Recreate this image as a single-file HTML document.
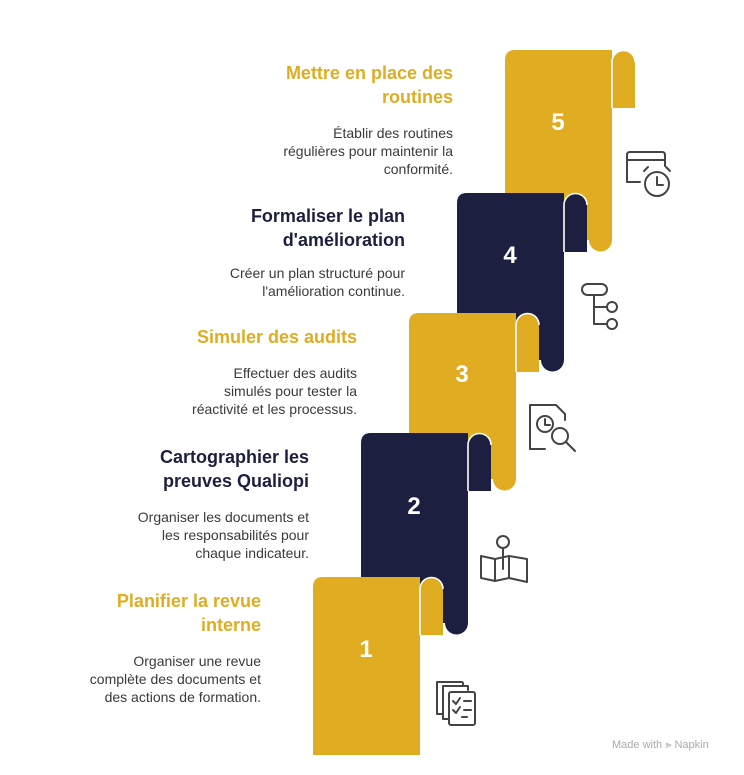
<!DOCTYPE html>
<html><head><meta charset="utf-8"><style>
body{margin:0;width:744px;height:775px;background:#fff;position:relative;overflow:hidden;font-family:"Liberation Sans",sans-serif}
.t{position:absolute;text-align:right;font-weight:bold;font-size:18px;line-height:24px}
.d{position:absolute;text-align:right;font-size:14px;line-height:18px;color:#3a3a3a}
.y{color:#E0AC21}.n{color:#1C1F3F}
</style></head><body>
<svg width="744" height="775" style="position:absolute;left:0;top:0">
<!-- step 5 -->
<g>
<path d="M505,60 Q505,50 515,50 L612,50 L612,240 A11.5,11.5 0 0 1 589,240 L505,240 Z" fill="#E0AC21"/>
<path d="M612,108 L612,62 A11.5,11.5 0 0 1 635,62 L635,108 Z" fill="#E0AC21"/>
<path d="M612,108 L612,62 A11.5,11.5 0 0 1 635,62" fill="none" stroke="#fff" stroke-width="1.6"/>
</g>
<!-- step 4 -->
<g>
<path d="M457,203 Q457,193 467,193 L564,193 L564,360 A11.5,11.5 0 0 1 541,360 L457,360 Z" fill="#1C1F3F"/>
<path d="M564,252 L564,205 A11.5,11.5 0 0 1 587,205 L587,252 Z" fill="#1C1F3F"/>
<path d="M564,252 L564,205 A11.5,11.5 0 0 1 587,205" fill="none" stroke="#fff" stroke-width="1.6"/>
</g>
<!-- step 3 -->
<g>
<path d="M409,323 Q409,313 419,313 L516,313 L516,479 A11.5,11.5 0 0 1 493,479 L409,479 Z" fill="#E0AC21"/>
<path d="M516,372 L516,325 A11.5,11.5 0 0 1 539,325 L539,372 Z" fill="#E0AC21"/>
<path d="M516,372 L516,325 A11.5,11.5 0 0 1 539,325" fill="none" stroke="#fff" stroke-width="1.6"/>
</g>
<!-- step 2 -->
<g>
<path d="M361,443 Q361,433 371,433 L468,433 L468,623 A11.5,11.5 0 0 1 445,623 L361,623 Z" fill="#1C1F3F"/>
<path d="M468,491 L468,445 A11.5,11.5 0 0 1 491,445 L491,491 Z" fill="#1C1F3F"/>
<path d="M468,491 L468,445 A11.5,11.5 0 0 1 491,445" fill="none" stroke="#fff" stroke-width="1.6"/>
</g>
<!-- step 1 -->
<g>
<path d="M313,587 Q313,577 323,577 L420,577 L420,755 L313,755 Z" fill="#E0AC21"/>
<path d="M420,635 L420,589 A11.5,11.5 0 0 1 443,589 L443,635 Z" fill="#E0AC21"/>
<path d="M420,635 L420,589 A11.5,11.5 0 0 1 443,589" fill="none" stroke="#fff" stroke-width="1.6"/>
</g>
<g fill="#fff" font-family="Liberation Sans" font-weight="bold" font-size="24" text-anchor="middle">
<text x="558" y="130">5</text><text x="510" y="263">4</text><text x="462" y="382">3</text><text x="414" y="514">2</text><text x="366" y="657">1</text>
</g>
<g fill="none" stroke="#444" stroke-width="2" stroke-linecap="round" stroke-linejoin="round">
<path d="M640,182 L627,182 L627,155 Q627,152 630,152 L662,152 Q665,152 665,155 L665,166"/>
<path d="M627,160 L665,160"/>
<circle cx="657" cy="184" r="12"/><path d="M657,177 L657,185 L663,185"/>
<path d="M644,171 L648,167 M670,171 L666,167"/>
<rect x="582" y="284" width="25" height="11" rx="5.5"/>
<path d="M594,295 L594,324 L606,324 M594,307 L606,307"/>
<circle cx="612" cy="307" r="5"/><circle cx="612" cy="324" r="5"/>
<path d="M545,449 L530,449 L530,405 L556,405 L565,414 L565,420"/>
<circle cx="545" cy="424" r="8"/><path d="M545,419 L545,425 L550,425"/>
<circle cx="560" cy="436" r="8"/><path d="M566,442 L575,451"/>
<path d="M481,556 L495,559 L495,581 L481,578 Z M495,559 L509,556 L509,578 L495,581 M509,556 L527,559 L527,582 L509,578 Z"/>
<circle cx="503" cy="542" r="6"/><path d="M503,548 L503,569"/>
<path d="M443,714 L437,714 L437,682 L462,682 Q463,682 463,684 L463,686"/>
<path d="M449,719 L443,719 L443,686 L468,686 L468,690"/>
<rect x="449" y="692" width="26" height="33" rx="2"/>
<path d="M453,701 L456,704 L460,698 M464,701 L471,701 M453,710 L456,713 L460,707 M464,710 L471,710 M462,717 L467,717"/>
</g>
</svg>
<div class="t y" style="right:291px;top:61px">Mettre en place des<br>routines</div>
<div class="d" style="right:291px;top:124px">Établir des routines<br>régulières pour maintenir la<br>conformité.</div>
<div class="t n" style="right:339px;top:204px">Formaliser le plan<br>d'amélioration</div>
<div class="d" style="right:339px;top:264px">Créer un plan structuré pour<br>l'amélioration continue.</div>
<div class="t y" style="right:387px;top:325px">Simuler des audits</div>
<div class="d" style="right:387px;top:364px">Effectuer des audits<br>simulés pour tester la<br>réactivité et les processus.</div>
<div class="t n" style="right:435px;top:445px">Cartographier les<br>preuves Qualiopi</div>
<div class="d" style="right:435px;top:508px">Organiser les documents et<br>les responsabilités pour<br>chaque indicateur.</div>
<div class="t y" style="right:483px;top:589px">Planifier la revue<br>interne</div>
<div class="d" style="right:483px;top:652px">Organiser une revue<br>complète des documents et<br>des actions de formation.</div>
<div style="position:absolute;left:612px;top:739px;font-size:11px;color:#aaa">Made with ⪢ Napkin</div>
</body></html>
